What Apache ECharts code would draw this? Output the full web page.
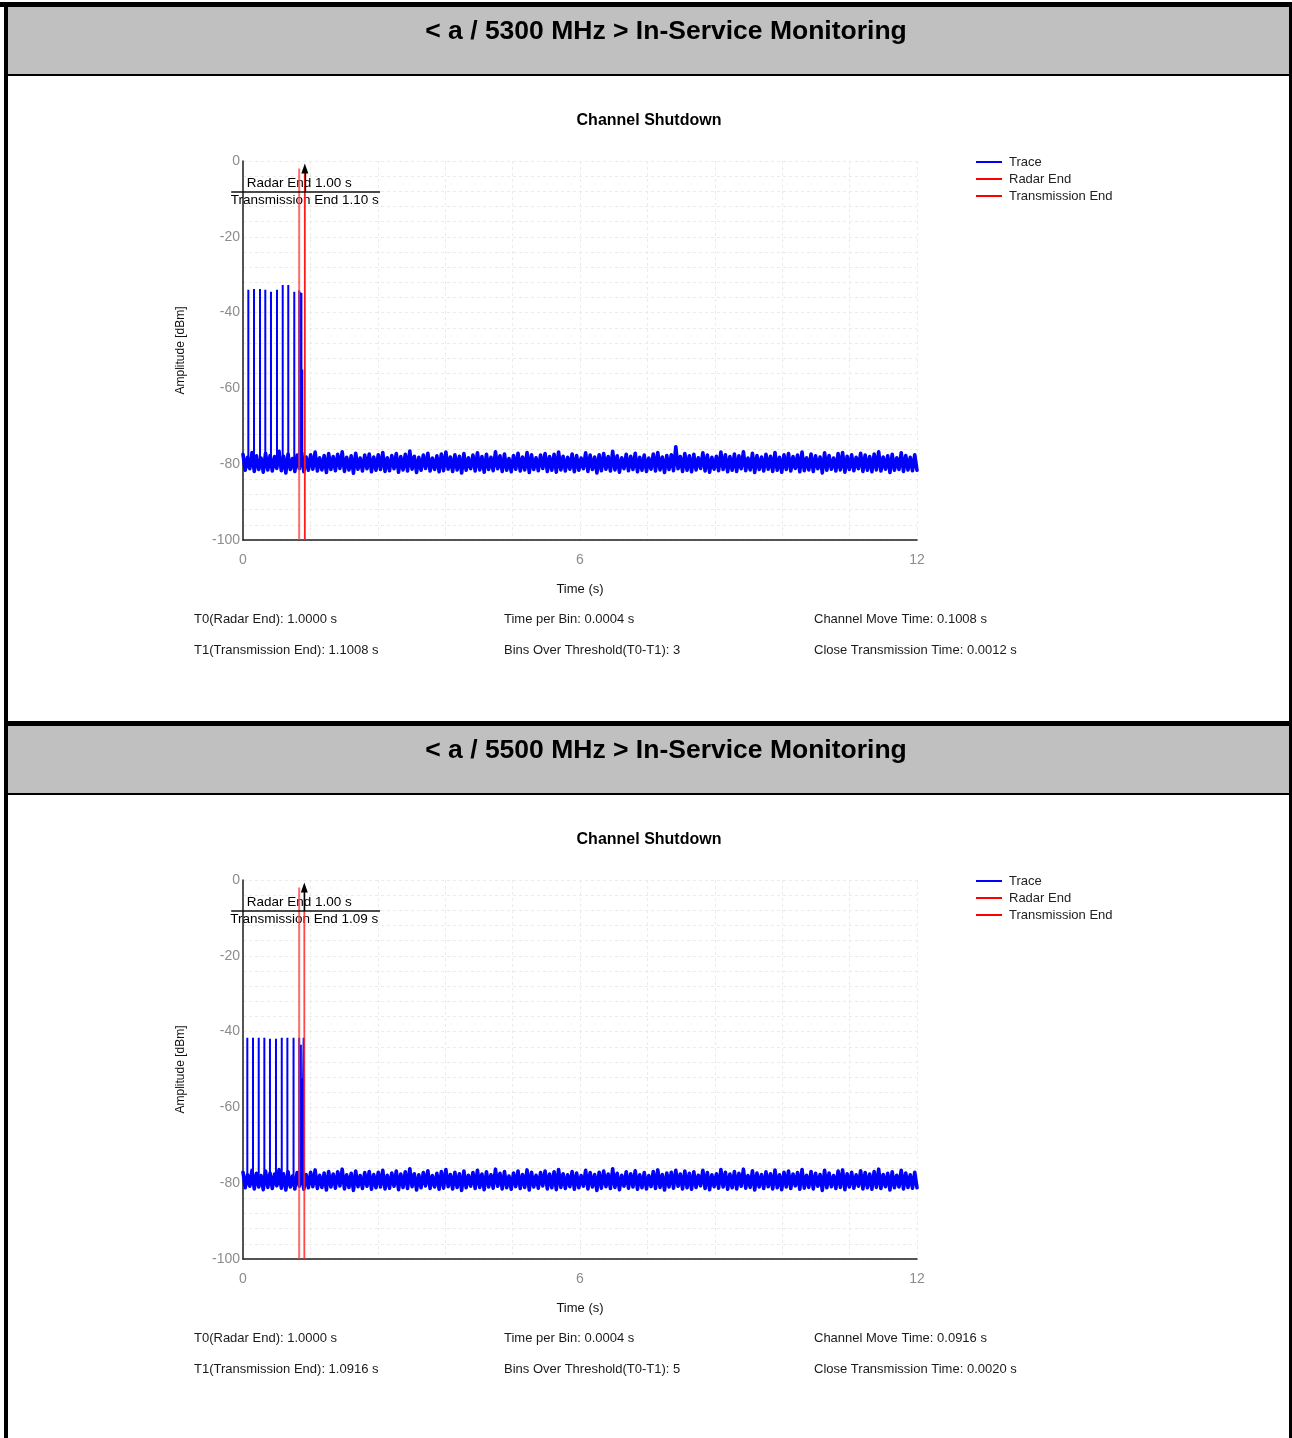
<!DOCTYPE html>
<html><head><meta charset="utf-8">
<script src="https://cdn.jsdelivr.net/npm/echarts@6/dist/echarts.min.js"></script>
<style>html,body{margin:0;padding:0;background:#fff}#c{width:1292px;height:1438px}</style>
</head><body><div id="c"></div>
<script>
// ---------------- data ----------------
const panelTitles = ['< a / 5300 MHz > In-Service Monitoring', '< a / 5500 MHz > In-Service Monitoring'];
const chartTitle = 'Channel Shutdown';
const seriesNames = ['Trace', 'Radar End', 'Transmission End'];
const xLabelTicks = [0, 6, 12];
const yLabelTicks = [0, -20, -40, -60, -80, -100];
const radarEnd = [1.0000, 1.0000];
const transmissionEnd = [1.1008, 1.0916];
const annotRadar = ['Radar End 1.00 s', 'Radar End 1.00 s'];
const annotTrans = ['Transmission End 1.10 s', 'Transmission End 1.09 s'];
const pulseBase = -80.3;
const pulses1 = [[0.095,-34.0],[0.196,-33.8],[0.303,-33.8],[0.397,-34.0],[0.498,-34.5],[0.605,-34.0],[0.707,-32.7],[0.806,-32.7],[0.913,-34.5],[1.000,-34.2],[1.020,-34.6],[1.040,-34.8],[1.055,-55.0]];
const pulses2 = [[0.077,-41.6],[0.178,-41.6],[0.280,-41.6],[0.380,-41.6],[0.480,-41.9],[0.587,-41.9],[0.690,-41.6],[0.790,-41.6],[0.900,-41.6],[1.000,-41.6],[1.030,-43.5],[1.045,-52.3],[1.080,-41.6]];
const noise1 = [
-77.4,-81.6,-78.2,-81.2,-76.9,-81.9,-77.8,-81.4,-78.4,-82.1,-77.1,-81.5,-77.7,-81.8,-78.0,-81.1,-76.6,-81.7,-77.9,-82.3,
-77.3,-81.4,-78.5,-81.9,-77.6,-81.2,-77.0,-82.0,-78.1,-81.6,-77.5,-81.3,-76.8,-81.8,-78.3,-81.5,-77.7,-82.2,-77.2,-81.4,
-78.0,-81.7,-77.4,-81.1,-76.7,-81.9,-78.2,-81.5,-77.8,-82.4,-77.1,-81.3,-78.4,-81.8,-77.6,-81.2,-77.3,-82.0,-78.1,-81.6,
-77.5,-81.4,-76.9,-81.9,-78.3,-81.7,-77.7,-81.2,-77.2,-82.1,-78.0,-81.5,-77.4,-81.8,-76.5,-81.3,-77.9,-82.2,-78.2,-81.6,
-77.6,-81.1,-77.1,-81.8,-78.4,-81.4,-77.8,-82.0,-77.3,-81.7,-76.8,-81.3,-78.1,-81.9,-77.5,-81.5,-77.9,-82.3,-77.2,-81.6,
-78.3,-81.2,-77.6,-81.8,-77.0,-81.5,-78.0,-82.1,-77.4,-81.4,-78.2,-81.7,-76.7,-81.2,-77.8,-81.9,-77.3,-81.6,-78.5,-82.0,
-77.7,-81.3,-77.1,-81.8,-78.1,-81.5,-76.9,-82.2,-77.5,-81.4,-78.3,-81.7,-77.6,-81.1,-77.2,-81.9,-78.0,-81.6,-77.4,-82.1,
-76.8,-81.5,-77.9,-81.8,-78.2,-81.3,-77.3,-82.0,-77.7,-81.6,-78.4,-81.2,-77.0,-81.9,-77.6,-81.4,-78.1,-82.3,-77.5,-81.7,
-77.2,-81.3,-78.0,-81.8,-76.6,-81.5,-77.8,-82.1,-78.3,-81.2,-77.4,-81.7,-77.9,-81.4,-77.1,-82.0,-78.2,-81.6,-77.6,-81.9,
-78.4,-81.3,-77.3,-81.8,-76.9,-81.5,-78.1,-82.2,-77.7,-81.4,-77.5,-81.7,-75.4,-81.2,-78.0,-81.9,-77.2,-81.6,-77.8,-82.0,
-77.4,-81.5,-78.3,-81.1,-77.0,-81.8,-77.6,-82.1,-78.2,-81.3,-77.9,-81.7,-76.8,-81.4,-77.5,-82.0,-78.0,-81.6,-77.3,-81.9,
-77.8,-81.2,-76.7,-81.7,-78.4,-81.5,-77.1,-82.2,-77.7,-81.4,-78.1,-81.8,-77.4,-81.3,-77.9,-81.9,-76.9,-81.6,-78.2,-82.1,
-77.5,-81.4,-77.2,-81.8,-78.0,-81.1,-77.6,-82.0,-76.8,-81.7,-78.3,-81.5,-77.3,-81.9,-77.8,-81.2,-78.1,-82.3,-77.0,-81.6,
-77.7,-81.3,-78.4,-81.8,-77.2,-81.5,-76.9,-82.1,-77.9,-81.4,-77.5,-81.7,-78.2,-81.2,-77.1,-81.9,-77.6,-81.6,-78.0,-82.0,
-77.3,-81.5,-76.7,-81.8,-78.1,-81.3,-77.8,-82.2,-77.4,-81.6,-78.3,-81.4,-77.0,-81.9,-77.7,-81.5,-78.2,-81.7,-77.5,-81.6
];
const noise2 = [
-77.1,-81.2,-77.8,-80.8,-76.6,-81.5,-77.4,-81.0,-78.0,-81.7,-76.8,-81.1,-77.3,-81.4,-77.6,-80.7,-76.4,-81.3,-77.5,-81.8,
-77.0,-81.0,-78.1,-81.5,-77.2,-80.8,-76.7,-81.6,-77.7,-81.2,-77.1,-80.9,-76.5,-81.4,-77.9,-81.1,-77.3,-81.8,-76.9,-81.0,
-77.6,-81.3,-77.0,-80.7,-76.3,-81.5,-77.8,-81.1,-77.4,-81.9,-76.8,-80.9,-78.0,-81.4,-77.2,-80.8,-76.9,-81.6,-77.7,-81.2,
-77.1,-81.0,-76.6,-81.5,-77.9,-81.3,-77.3,-80.8,-76.8,-81.7,-77.6,-81.1,-77.0,-81.4,-76.2,-80.9,-77.5,-81.8,-77.8,-81.2,
-77.2,-80.7,-76.7,-81.4,-78.0,-81.0,-77.4,-81.6,-76.9,-81.3,-76.4,-80.9,-77.7,-81.5,-77.1,-81.1,-77.5,-81.9,-76.8,-81.2,
-77.9,-80.8,-77.2,-81.4,-76.6,-81.1,-77.6,-81.7,-77.0,-81.0,-77.8,-81.3,-76.3,-80.8,-77.4,-81.5,-76.9,-81.2,-78.1,-81.6,
-77.3,-80.9,-76.8,-81.4,-77.7,-81.1,-76.5,-81.8,-77.1,-81.0,-77.9,-81.3,-77.2,-80.7,-76.8,-81.5,-77.6,-81.2,-77.0,-81.7,
-76.4,-81.1,-77.5,-81.4,-77.8,-80.9,-76.9,-81.6,-77.3,-81.2,-78.0,-80.8,-76.6,-81.5,-77.2,-81.0,-77.7,-81.9,-77.1,-81.3,
-76.8,-80.9,-77.6,-81.4,-76.2,-81.1,-77.4,-81.7,-77.9,-80.8,-77.0,-81.3,-77.5,-81.0,-76.7,-81.6,-77.8,-81.2,-77.2,-81.5,
-78.0,-80.9,-76.9,-81.4,-76.5,-81.1,-77.7,-81.8,-77.3,-81.0,-77.1,-81.3,-76.6,-80.8,-77.6,-81.5,-76.8,-81.2,-77.4,-81.6,
-77.0,-81.1,-77.9,-80.7,-76.6,-81.4,-77.2,-81.7,-77.8,-80.9,-77.5,-81.3,-76.4,-81.0,-77.1,-81.6,-77.6,-81.2,-76.9,-81.5,
-77.4,-80.8,-76.3,-81.3,-78.0,-81.1,-76.7,-81.8,-77.3,-81.0,-77.7,-81.4,-77.0,-80.9,-77.5,-81.5,-76.5,-81.2,-77.8,-81.7,
-77.1,-81.0,-76.8,-81.4,-77.6,-80.7,-77.2,-81.6,-76.4,-81.3,-77.9,-81.1,-76.9,-81.5,-77.4,-80.8,-77.7,-81.9,-76.6,-81.2,
-77.3,-80.9,-78.0,-81.4,-76.8,-81.1,-76.5,-81.7,-77.5,-81.0,-77.1,-81.3,-77.8,-80.8,-76.7,-81.5,-77.2,-81.2,-77.6,-81.6,
-76.9,-81.1,-76.3,-81.4,-77.7,-80.9,-77.4,-81.8,-77.0,-81.2,-77.9,-81.0,-76.6,-81.5,-77.3,-81.1,-77.8,-81.3,-77.1,-81.2
];
const timeSpan = [0, 12];
const infoRows = [
  [['T0(Radar End): 1.0000 s','T1(Transmission End): 1.1008 s'],['Time per Bin: 0.0004 s','Bins Over Threshold(T0-T1): 3'],['Channel Move Time: 0.1008 s','Close Transmission Time: 0.0012 s']],
  [['T0(Radar End): 1.0000 s','T1(Transmission End): 1.0916 s'],['Time per Bin: 0.0004 s','Bins Over Threshold(T0-T1): 5'],['Channel Move Time: 0.0916 s','Close Transmission Time: 0.0020 s']]
];
const pulseSets = [pulses1, pulses2];
const noiseSets = [noise1, noise2];

// ---------------- layout / style ----------------
const FONT = '"Liberation Sans", Arial, sans-serif';
const PANEL_DY = 719;
const chart = echarts.init(document.getElementById('c'), null, {renderer: 'canvas'});

function noiseData(arr) {
  const n = arr.length;
  return arr.map((v, i) => [timeSpan[0] + (timeSpan[1] - timeSpan[0]) * i / (n - 1), v]);
}
function pulseData(arr) {
  const out = [];
  arr.forEach(p => { out.push([p[0], pulseBase], [p[0], p[1]], [p[0], pulseBase]); });
  return out;
}

const grids = [], xAxes = [], yAxes = [], series = [], legends = [], graphics = [];
const gridLine = {color: '#ebebeb', type: [3, 3], width: 1};

for (let p = 0; p < 2; p++) {
  const dy = p * PANEL_DY;
  grids.push({left: 243, top: 161 + dy, width: 674, height: 379});
  xAxes.push({
    type: 'value', gridIndex: p, min: xLabelTicks[0], max: xLabelTicks[xLabelTicks.length - 1], interval: 6,
    axisLine: {show: true, onZero: false, lineStyle: {color: '#1e1e1e', width: 1.5}},
    axisTick: {show: false},
    axisLabel: {color: '#8c8c8c', fontSize: 14, fontFamily: FONT, margin: 13},
    splitLine: {show: true, lineStyle: gridLine},
    minorTick: {show: false, splitNumber: 5},
    minorSplitLine: {show: true, lineStyle: gridLine},
    name: 'Time (s)', nameLocation: 'middle', nameGap: 43,
    nameTextStyle: {color: '#111', fontSize: 13, fontFamily: FONT}
  });
  yAxes.push({
    type: 'value', gridIndex: p, min: yLabelTicks[yLabelTicks.length - 1], max: yLabelTicks[0], interval: 20,
    axisLine: {show: true, onZero: false, lineStyle: {color: '#1e1e1e', width: 1.5}},
    axisTick: {show: false},
    axisLabel: {color: '#8c8c8c', fontSize: 14, fontFamily: FONT, margin: 3},
    splitLine: {show: true, lineStyle: gridLine},
    minorTick: {show: false, splitNumber: 5},
    minorSplitLine: {show: true, lineStyle: gridLine},
    name: 'Amplitude [dBm]', nameLocation: 'middle', nameGap: 56,
    nameTextStyle: {color: '#111', fontSize: 12, fontFamily: FONT}
  });

  const t0 = radarEnd[p], t1 = transmissionEnd[p];
  series.push({
    type: 'line', name: seriesNames[0], xAxisIndex: p, yAxisIndex: p, data: noiseData(noiseSets[p]),
    symbol: 'none', sampling: null,
    lineStyle: {color: '#0000ff', width: 3.6, join: 'round', cap: 'round'}, itemStyle: {color: '#0000ff'},
    silent: true, animation: false
  });
  series.push({
    type: 'line', name: seriesNames[0], xAxisIndex: p, yAxisIndex: p, data: pulseData(pulseSets[p]),
    symbol: 'none', lineStyle: {color: '#0000ff', width: 2, join: 'bevel'}, itemStyle: {color: '#0000ff'},
    silent: true, animation: false
  });
  series.push({
    type: 'line', name: seriesNames[1], xAxisIndex: p, yAxisIndex: p, data: [[t0, -2], [t0, -100]],
    symbol: 'none', lineStyle: {color: 'rgba(255,60,60,0.75)', width: 2}, itemStyle: {color: '#ff0000'},
    silent: true, animation: false
  });
  series.push({
    type: 'line', name: seriesNames[2], xAxisIndex: p, yAxisIndex: p, data: [[t1, -2], [t1, -100]],
    symbol: 'none', lineStyle: {color: p === 0 ? '#ff1a1a' : 'rgba(255,40,40,0.85)', width: 1.8}, itemStyle: {color: '#ff0000'},
    silent: true, animation: false
  });
  // annotation: arrow + texts
  series.push({
    type: 'scatter', name: 'annotationText', xAxisIndex: p, yAxisIndex: p, clip: false, silent: true, animation: false,
    symbolSize: 1, itemStyle: {color: 'rgba(255,255,255,0)'},
    label: {show: true, position: 'inside', color: '#000', fontSize: 13.5, fontFamily: FONT,
            textBorderWidth: 0, textBorderColor: 'transparent', opacity: 1},
    data: [
      {value: [t0, -5.9], label: {formatter: annotRadar[p]}},
      {value: [t1, -10.4], label: {formatter: annotTrans[p]}}
    ],
    markLine: {
      silent: true, animation: false, symbol: ['none', 'triangle'], symbolSize: [7, 10],
      lineStyle: {color: '#000', width: 1.3, type: 'solid', opacity: 1}, label: {show: false},
      data: [[{coord: [t1, -8.2]}, {coord: [t1, -2.0]}]]
    }
  });

  legends.push({
    orient: 'vertical', left: 976, top: 155 + dy, padding: 0, itemWidth: 26, itemHeight: 2, itemGap: 3, icon: 'rect',
    selectedMode: false,
    textStyle: {color: '#222', fontSize: 13, fontFamily: FONT, lineHeight: 14, padding: [0, 0, 0, 2]},
    data: [
      {name: seriesNames[0], itemStyle: {color: '#0000ff'}},
      {name: seriesNames[1], itemStyle: {color: '#ff0000'}},
      {name: seriesNames[2], itemStyle: {color: '#ff0000'}}
    ]
  });

  // page decoration
  graphics.push({type: 'rect', shape: {x: 8, y: (p === 0 ? 7 : 726), width: 1281, height: 67}, style: {fill: '#c0c0c0'}, silent: true});
  graphics.push({type: 'rect', shape: {x: 4, y: (p === 0 ? 74 : 793), width: 1288, height: 2}, style: {fill: '#000'}, silent: true});
  graphics.push({type: 'text', x: 666, y: 32 + dy, silent: true,
    style: {text: panelTitles[p], fill: '#000', font: 'bold 26.5px ' + FONT, textAlign: 'center', textVerticalAlign: 'middle'}});
  graphics.push({type: 'text', x: 649, y: 121 + dy, silent: true,
    style: {text: chartTitle, fill: '#000', font: 'bold 16px ' + FONT, textAlign: 'center', textVerticalAlign: 'middle'}});
  const colX = [194, 504, 814];
  infoRows[p].forEach((col, ci) => {
    col.forEach((txt, ri) => {
      graphics.push({type: 'text', x: colX[ci], y: 619 + ri * 31 + dy, silent: true,
        style: {text: txt, fill: '#1a1a1a', font: '13px ' + FONT, textAlign: 'left', textVerticalAlign: 'middle'}});
    });
  });
}
// borders
graphics.push({type: 'rect', shape: {x: 0, y: 2, width: 1292, height: 5}, style: {fill: '#000'}, silent: true});
graphics.push({type: 'rect', shape: {x: 4, y: 2, width: 4, height: 1436}, style: {fill: '#000'}, silent: true});
graphics.push({type: 'rect', shape: {x: 1289, y: 2, width: 3, height: 1436}, style: {fill: '#000'}, silent: true});
graphics.push({type: 'rect', shape: {x: 4, y: 721, width: 1288, height: 5}, style: {fill: '#000'}, silent: true});

chart.setOption({
  animation: false,
  backgroundColor: '#fff',
  grid: grids, xAxis: xAxes, yAxis: yAxes, series: series, legend: legends,
  graphic: {elements: graphics}
});

// annotation bar (the line under "Radar End"), placed through the axis scales
const barSpan = [-0.21, 2.44], barLevel = -8.2;
const barGraphics = [];
for (let p = 0; p < 2; p++) {
  const a = chart.convertToPixel({gridIndex: p}, [barSpan[0], barLevel]);
  const b = chart.convertToPixel({gridIndex: p}, [barSpan[1], barLevel]);
  barGraphics.push({type: 'line', silent: true, z: 10,
    shape: {x1: a[0], y1: a[1], x2: b[0], y2: b[1]}, style: {stroke: '#111', lineWidth: 1.5}});
}
chart.setOption({graphic: {elements: graphics.concat(barGraphics)}});
</script></body></html>
